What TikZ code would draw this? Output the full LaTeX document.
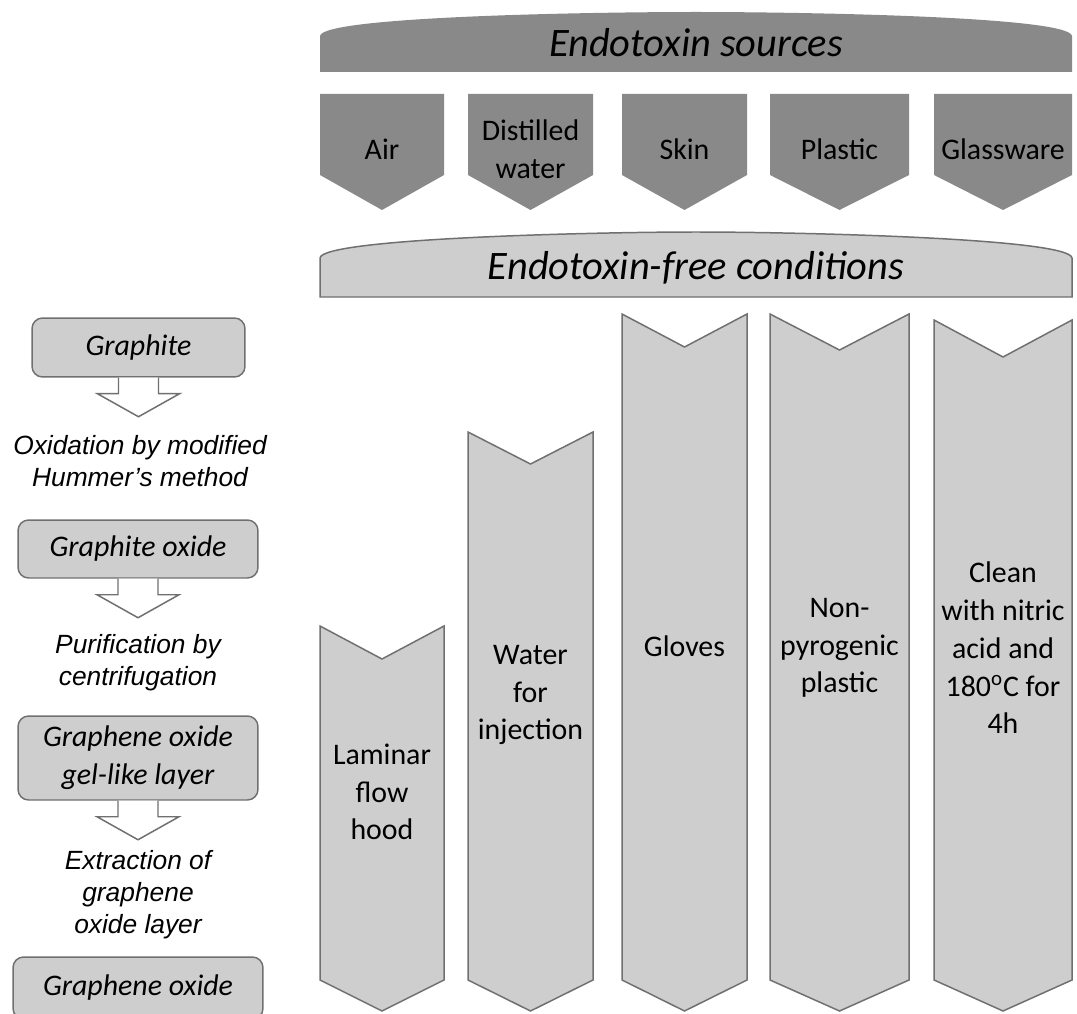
\documentclass[tikz,border=0pt]{standalone}
\usepackage{fontspec}
\setmainfont{Carlito}
\newfontfamily\stepfont{Liberation Sans}
\usepackage{tikz}
\usetikzlibrary{calc,positioning}
\definecolor{darkfill}{RGB}{137,137,137}
\definecolor{lightfill}{RGB}{206,206,206}
\definecolor{edgegray}{RGB}{112,112,112}
\tikzset{%
	srcshape/.style = {fill=darkfill},
	condshape/.style= {draw=edgegray, fill=lightfill, line width=0.85pt},
	titletext/.style= {font=\fontsize{23}{27}\selectfont\itshape},
	coltext/.style  = {font=\fontsize{17}{21.5}\selectfont, align=center, inner sep=0pt},
	stepbox/.style  = {draw=edgegray, fill=lightfill, rounded corners=6pt, line width=0.85pt, font=\fontsize{17}{21.5}\selectfont\itshape, align=center, inner sep=0pt},
	steptext/.style = {font=\stepfont\fontsize{15}{18.3}\selectfont\itshape, align=center, inner sep=0pt},
	hollow/.style   = {draw=edgegray, fill=white, line width=0.85pt},
}
% hollow arrow hanging below a step box
\newcommand{\hollowdown}[1]{\draw[hollow] (#1.south) ++(-20,0) -- ++(0,16) -- ++(-21,0) -- ++(41,23) -- ++(41,-23) -- ++(-21,0) -- ++(0,-16);}

\begin{document}
\begin{tikzpicture}[x=0.02cm,y=-0.02cm]
	\useasboundingbox (0,0) rectangle (1077,1013);
	
	% endotoxin sources
	\fill[darkfill] (320,72) -- (320,36) .. controls (322,16) and (600,12) .. (696,12) .. controls (792,12) and (1070,16) .. (1072,36) -- (1072,72) -- cycle;
	\node[titletext] (sources) at (696,43) {Endotoxin sources};
	
	\foreach \xl/\xr/\name/\lbl in {320/444/air/Air, 468/593/water/{Distilled\\water}, 622/747/skin/Skin, 770/909/plastic/Plastic, 934/1072/glass/Glassware} {
		\fill[srcshape] (\xl,94) -- (\xr,94) -- (\xr,175) -- ({(\xl+\xr)/2},210) -- (\xl,175) -- cycle;
		\node[coltext] (src-\name) at ({(\xl+\xr)/2},149) {\lbl};
	}
	
	% endotoxin-free conditions
	\draw[condshape] (320,297) -- (320,258) .. controls (322,238) and (600,232) .. (696,232) .. controls (792,232) and (1070,238) .. (1072,258) -- (1072,297) -- cycle;
	\node[titletext] (free) at (696,268) {Endotoxin-free conditions};
	
	\foreach \xl/\xr/\yt/\nd/\ty/\name/\lbl in {320/444/626/33/792/hood/{Laminar\\flow\\hood}, 468/593/432/32/695/wfi/{Water\\for\\injection}, 622/747/314/33/646/gloves/Gloves, 770/909/314/36/648/nonpyro/{Non-\\pyrogenic\\plastic}, 934/1072/320/37/648/clean/{Clean\\with nitric\\acid and\\180\textsuperscript{o}C for\\4h}} {
		\draw[condshape] (\xl,\yt) -- ({(\xl+\xr)/2},\yt+\nd) -- (\xr,\yt) -- (\xr,980) -- ({(\xl+\xr)/2},1011) -- (\xl,980) -- cycle;
		\node[coltext] (cond-\name) at ({(\xl+\xr)/2},\ty) {\lbl};
	}
	
	% graphene oxide preparation
	\node[stepbox, minimum width=4.26cm, minimum height=1.18cm] (graphite) at (138.5,347.5) {Graphite};
	\node[stepbox, minimum width=4.8cm, minimum height=1.16cm] (gox) at (138,549) {Graphite oxide};
	\node[stepbox, minimum width=4.8cm, minimum height=1.68cm] (gel) at (138,758) {Graphene oxide\\gel-like layer};
	\node[stepbox, minimum width=5cm, minimum height=1.24cm] (go) at (138,988) {Graphene oxide};
	
	\hollowdown{graphite}
	\hollowdown{gox}
	\hollowdown{gel}
	
	\node[steptext] (oxid) at (140,461) {Oxidation by modified\\Hummer’s method};
	\node[steptext] (purif) at (138,663) {Purification by\\centrifugation};
	\node[steptext] (extr) at (138,895) {Extraction of\\graphene\\oxide layer};
\end{tikzpicture}
\end{document}
